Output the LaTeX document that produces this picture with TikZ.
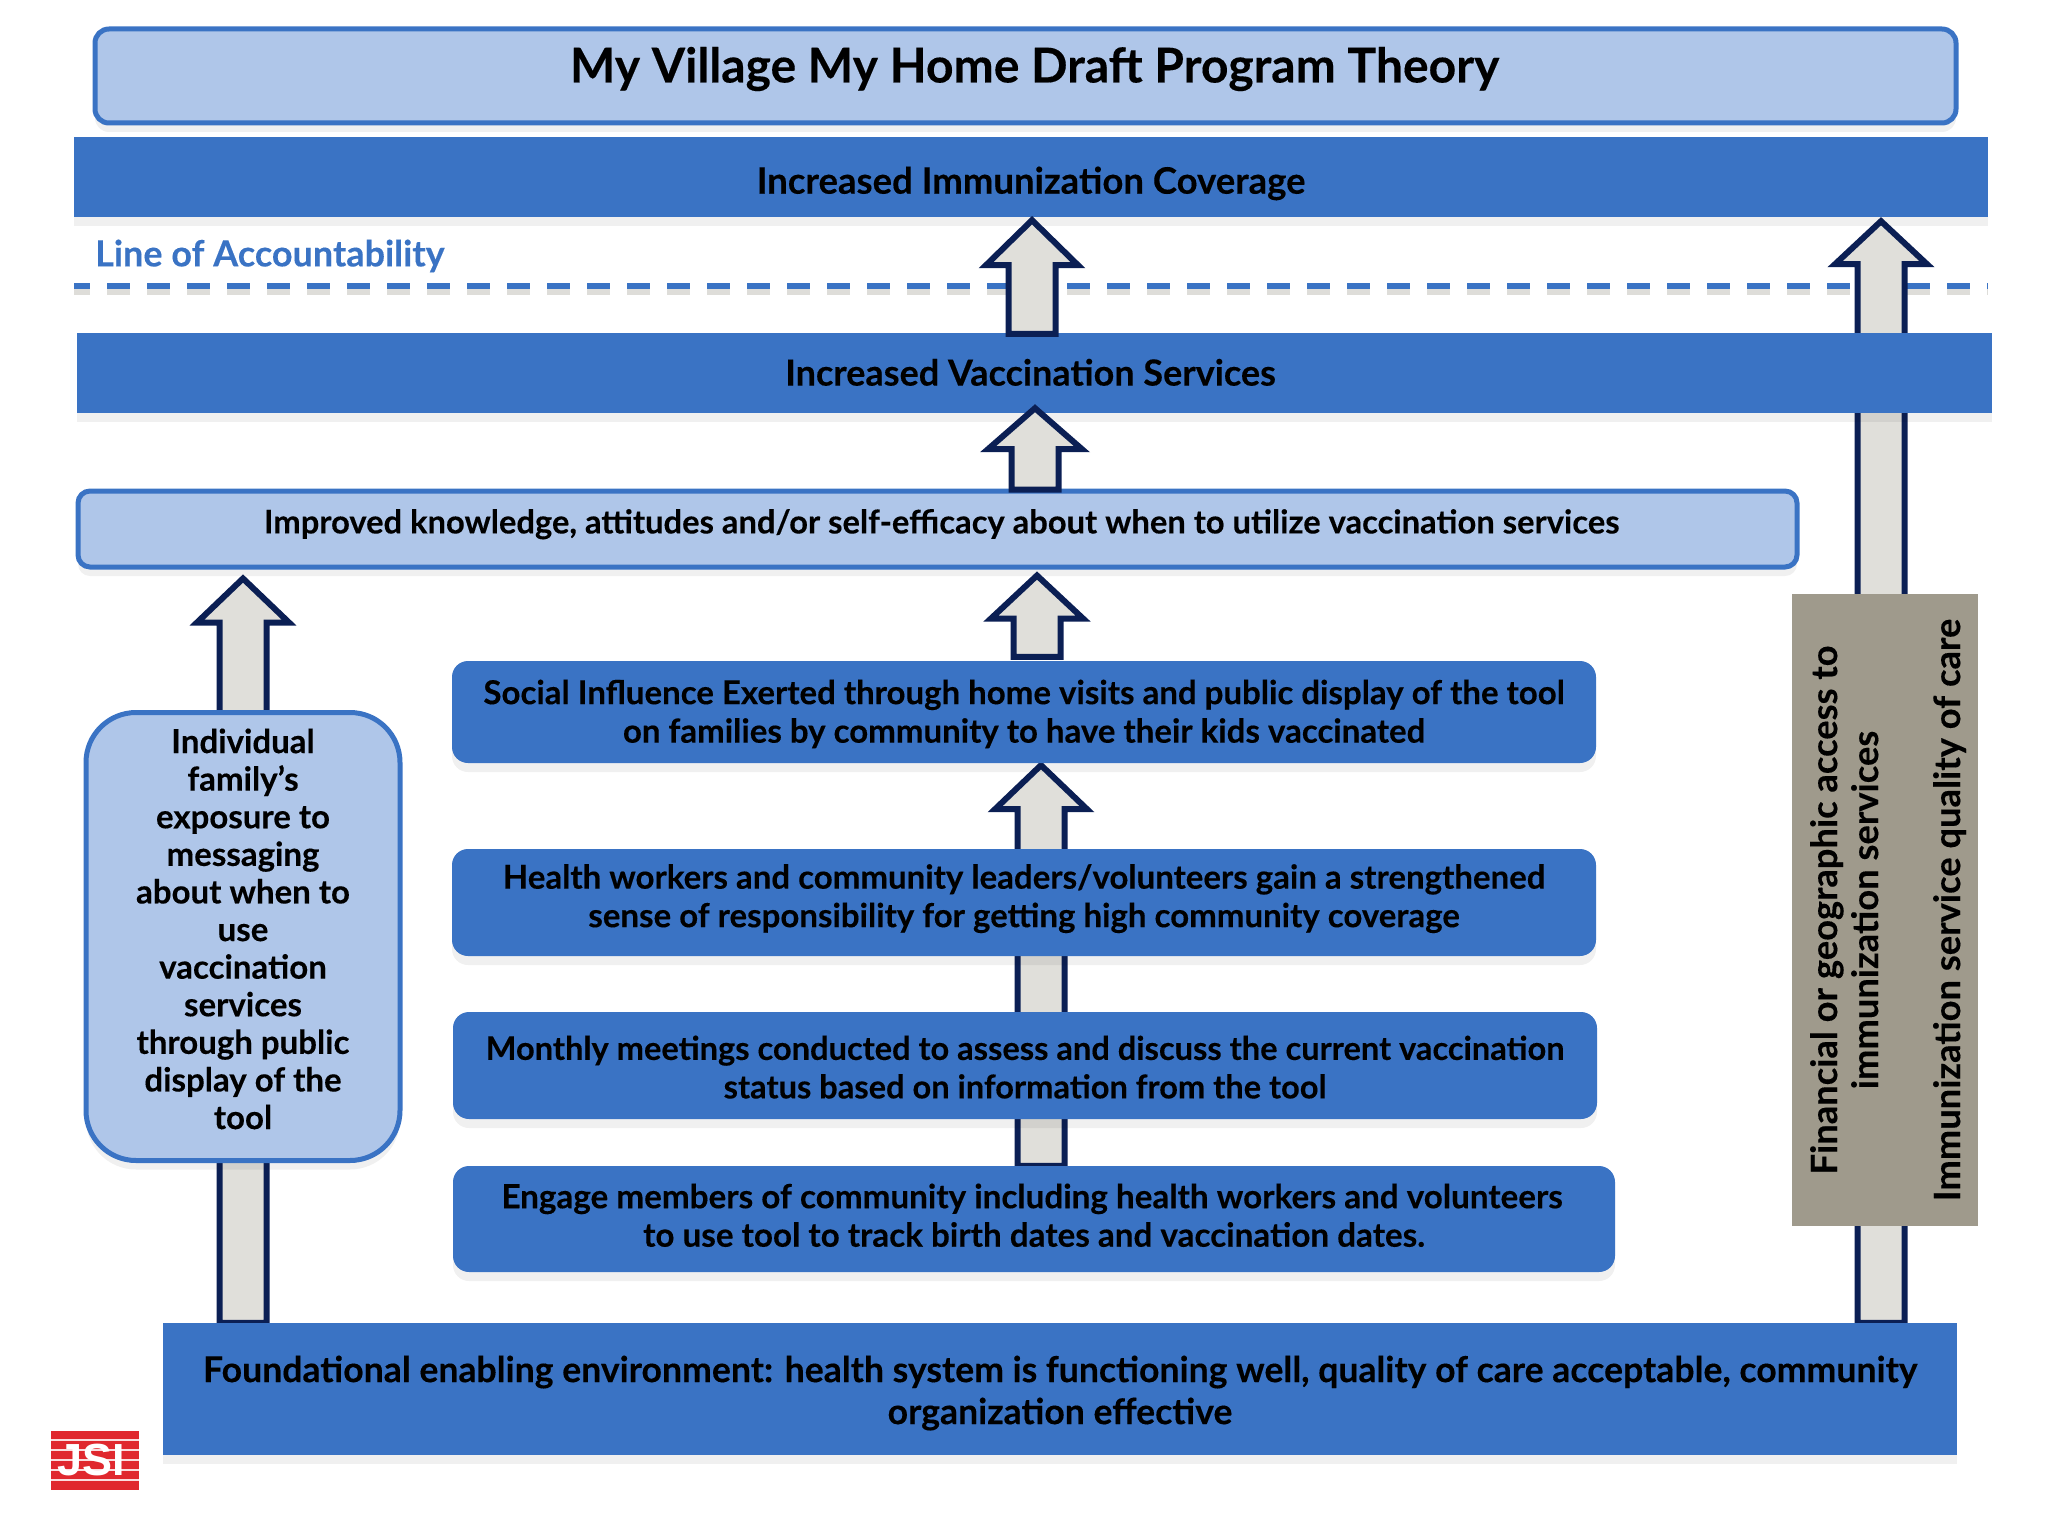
\documentclass[tikz,border=0pt]{standalone}
\usepackage{fontspec}
\setmainfont{Lato}[BoldFeatures={FakeBold=0.25}]
\newfontfamily\logofont{Liberation Sans}[Scale=1]
\usetikzlibrary{calc,shadows}
\definecolor{barblue}{HTML}{3A73C4}
\definecolor{lightblue}{HTML}{AFC6E9}
\definecolor{navy}{HTML}{0B1F54}
\definecolor{shaftgrey}{HTML}{E0DFDA}
\definecolor{boxgrey}{HTML}{9F9A8C}
\definecolor{dashshadow}{HTML}{DEDDD9}
\definecolor{logored}{HTML}{E0282E}
\pgfdeclarelayer{background}
\pgfsetlayers{background,main}
\newcommand{\lines}[4]{\fontsize{#2}{#3}\selectfont\bfseries\raisebox{\dimexpr#1-0.25\dimexpr#2\relax\relax}[0pt][0pt]{\begin{tabular}{@{}c@{}}#4\end{tabular}}}
\newcommand{\blockup}[8]{%
  \coordinate (T) at ($(#2 -| #1)+(0,#3)$);
  \coordinate (B) at ($(#4 -| #1)+(0,#5)$);
  \draw[blockarrow] (T) -- ($(T)+(#6,#8)$) -- ($(T)+(#7,#8)$) -- ($(B)+(#7,0)$)
    -- ($(B)+(-#7,0)$) -- ($(T)+(-#7,#8)$) -- ($(T)+(-#6,#8)$) -- cycle;}
\tikzset{
  x=1pt,y=-1pt,
  softbase/.style={copy shadow={draw=none,fill=black,fill opacity=.06,shadow xshift=0pt,shadow yshift=-9pt}},
  bar/.style={softbase,rectangle,fill=barblue,inner sep=0pt,text=black},
  paleround/.style={softbase,rectangle,rounded corners=14pt,fill=lightblue,draw=barblue,line width=5pt,inner sep=0pt,text=black},
  darkround/.style={softbase,rectangle,rounded corners=16pt,fill=barblue,inner sep=0pt,text=black},
  blockarrow/.style={draw=navy,fill=shaftgrey,line width=6pt,line join=miter,miter limit=10},
}
\begin{document}
\begin{tikzpicture}
\useasboundingbox (0,0) rectangle (2048,1536);
\node[paleround,minimum width=1861pt,minimum height=94pt] (title) at (1025.5,76) {\lines{10.5pt}{48pt}{56pt}{\hspace*{18pt}My Village My Home Draft Program Theory}};
\node[bar,minimum width=1914pt,minimum height=80pt] (coverage) at (1031,177) {\lines{-5pt}{36.5pt}{44pt}{Increased Immunization Coverage}};
\node[bar,minimum width=1915pt,minimum height=80pt] (services) at (1034.5,373) {\lines{-1pt}{36pt}{44pt}{\hspace*{-8pt}Increased Vaccination Services}};
\node[paleround,rounded corners=12pt,minimum width=1719pt,minimum height=76pt] (knowledge) at (937.5,529) {\lines{5.5pt}{32.7pt}{40pt}{\hspace*{8pt}Improved knowledge, attitudes and/or self-efficacy about when to utilize vaccination services}};
\node[darkround,minimum width=1144pt,minimum height=102pt] (social) at (1024,712) {\lines{-1.7pt}{33pt}{38.5pt}{Social Influence Exerted through home visits and public display of the tool\\on families by community to have their kids vaccinated}};
\node[darkround,minimum width=1144pt,minimum height=107pt] (health) at (1024,902.5) {\lines{4.3pt}{33pt}{38.5pt}{Health workers and community leaders/volunteers gain a strengthened\\sense of responsibility for getting high community coverage}};
\node[darkround,minimum width=1144pt,minimum height=107pt] (monthly) at (1025,1065.5) {\lines{-4pt}{32.6pt}{38.5pt}{Monthly meetings conducted to assess and discuss the current vaccination\\status based on information from the tool}};
\node[darkround,minimum width=1162pt,minimum height=106pt] (engage) at (1034,1219) {\lines{1.3pt}{33.2pt}{38.5pt}{\hspace*{-4pt}Engage members of community including health workers and volunteers\\to use tool to track birth dates and vaccination dates.}};
\node[bar,minimum width=1794pt,minimum height=132pt] (found) at (1060,1389) {\lines{-3pt}{35.6pt}{42pt}{Foundational enabling environment: health system is functioning well, quality of care acceptable, community\\organization effective}};
\node[paleround,rounded corners=50pt,minimum width=314pt,minimum height=448pt] (indiv) at (243,936.5) {\lines{5pt}{33pt}{37.6pt}{Individual\\family’s\\exposure to\\messaging\\about when to\\use\\vaccination\\services\\through public\\display of the\\tool}};
\node[rectangle,fill=boxgrey,rotate=90,inner sep=0pt,minimum width=632pt,minimum height=186pt,text=black] (grey) at (1884.5,910) {\lines{-3pt}{36.3pt}{41pt}{Financial or geographic access to\\immunization services\\ \\Immunization service quality of care}};
\node[anchor=west,text=barblue,inner sep=0pt] (line) at (95,256) {\fontsize{36pt}{42pt}\selectfont\bfseries Line of Accountability};
\coordinate (dashL) at (74,286);
\coordinate (dashR) at (1988,286);
\coordinate (cA) at (1032,0);
\coordinate (cB) at (1881,0);
\coordinate (cC) at (1035,0);
\coordinate (cD) at (1037,0);
\coordinate (cE) at (1041,0);
\coordinate (cF) at (243,0);
\begin{pgfonlayer}{background}
  \draw[dashshadow,line width=6pt,dash pattern=on 23pt off 17pt,dash phase=7pt] ($(dashL)+(0,6)$) -- ($(dashR)+(0,6)$);
  \draw[barblue,line width=6pt,dash pattern=on 23pt off 17pt,dash phase=7pt] (dashL) -- (dashR);
  \blockup{cB}{coverage.south}{4}{found.north}{0}{46}{23.5}{43}
  \blockup{cE}{social.south}{2}{engage.north}{0}{46}{23.5}{44}
  \blockup{cF}{knowledge.south}{9}{found.north}{0}{46}{23.5}{44}
\end{pgfonlayer}
\blockup{cA}{coverage.south}{3}{services.north}{1}{46}{23.5}{45}
\blockup{cC}{services.south}{-5}{knowledge.north}{1}{47}{23.5}{41}
\blockup{cD}{knowledge.south}{6}{social.north}{-4}{46}{23.5}{43}
% JSI logo
\node[rectangle,fill=logored,inner sep=0pt,minimum width=88pt,minimum height=59pt] (logo) at (95,1460.5) {};
\node[text=white,inner sep=0pt] (jsi) at (91.5,1460) {\fontsize{45pt}{45pt}\selectfont\logofont\bfseries JSI};
\foreach \yy in {1440,1450,1460,1470,1480}
  \fill[white,opacity=.85] ($(logo.west |- 0,\yy)+(0,-.6)$) rectangle ($(logo.east |- 0,\yy)+(0,.6)$);
\end{tikzpicture}
\end{document}
